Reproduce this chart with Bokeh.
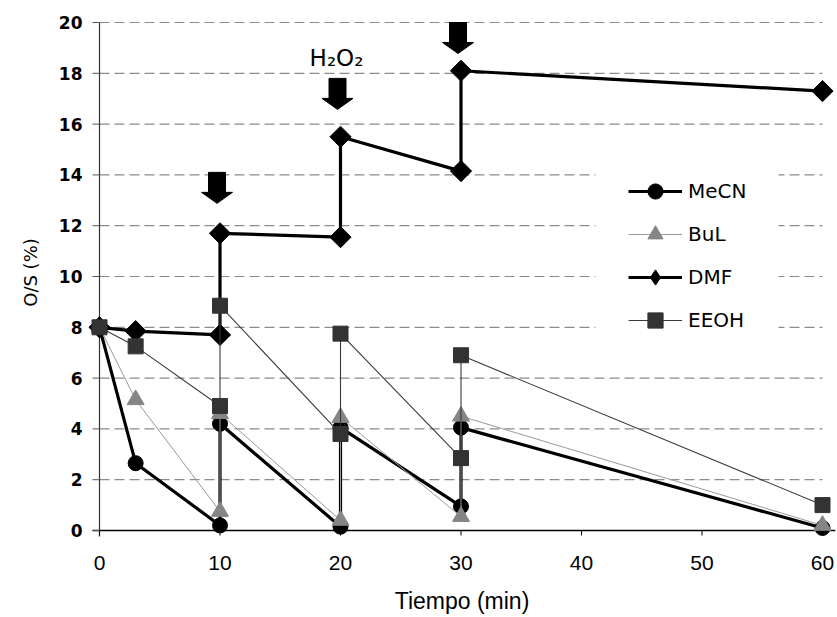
from bokeh.plotting import figure
from bokeh.models import (Range1d, LinearAxis, FixedTicker, Legend, LegendItem,
                          Label)
from bokeh.embed import file_html
from bokeh.resources import INLINE
import math

# Sampling times (min); each H2O2 addition repeats the time with the new value
time = [0, 3, 10, 10, 20, 20, 30, 30, 60]

mecn = [8.0, 2.65, 0.2, 4.2, 0.15, 4.05, 0.95, 4.05, 0.1]
bul = [8.0, 5.15, 0.75, 4.6, 0.4, 4.45, 0.55, 4.5, 0.2]
dmf = [8.0, 7.85, 7.7, 11.7, 11.55, 15.5, 14.15, 18.1, 17.3]
eeoh = [8.0, 7.25, 4.9, 8.85, 3.8, 7.75, 2.85, 6.9, 1.0]

x_ticks = [0, 10, 20, 30, 40, 50, 60]
y_ticks = [0, 2, 4, 6, 8, 10, 12, 14, 16, 18, 20]

# H2O2 additions
add_times = [10, 20, 30]
add_label = "H₂O₂"

# ---- layout: pixel scale of the data area ----
W, H = 837, 617
PX_X = 723 / 60.0     # px per minute
PX_Y = 508 / 20.0     # px per O/S unit
frame_left, frame_right = 88, 835
frame_top, frame_bottom = 2, 542
x0_px, y0_px = 99, 530
x_start = (frame_left - x0_px) / PX_X
x_end = (frame_right - x0_px) / PX_X
y_start = -(frame_bottom - y0_px) / PX_Y
y_end = (y0_px - frame_top) / PX_Y


def px_x(px):
    return (px - x0_px) / PX_X


def px_y(px):
    return (y0_px - px) / PX_Y


p = figure(width=W, height=H, output_backend="svg", toolbar_location=None,
           x_range=Range1d(x_start, x_end), y_range=Range1d(y_start, y_end),
           x_axis_type=None, y_axis_type=None,
           min_border_left=frame_left, min_border_right=W - frame_right,
           min_border_top=frame_top, min_border_bottom=H - frame_bottom,
           outline_line_color=None, background_fill_color="white",
           border_fill_color="white")

# dashed horizontal gridlines
gy = y_ticks[1:]
p.segment(x0=[x_ticks[0]] * len(gy), x1=[x_ticks[-1]] * len(gy), y0=gy, y1=gy,
          line_color="#8c8c8c", line_width=1.2, line_dash="10 5")

# white panel behind the legend
p.quad(left=[px_x(595)], right=[px_x(778)], bottom=[px_y(352)], top=[px_y(160)],
       fill_color="white", line_color=None)

# axis lines and tick marks through the origin
p.segment(x0=[px_x(92)], x1=[x_end], y0=[0], y1=[0],
          line_color="black", line_width=1.3)
p.segment(x0=[0], x1=[0], y0=[px_y(536)], y1=[y_ticks[-1]],
          line_color="#333333", line_width=1.2)
p.segment(x0=[px_x(92)] * len(y_ticks), x1=[0] * len(y_ticks),
          y0=y_ticks, y1=y_ticks, line_color="#555555", line_width=1)
p.segment(x0=x_ticks, x1=x_ticks, y0=[px_y(535)] * len(x_ticks),
          y1=[0] * len(x_ticks), line_color="black", line_width=1)

# tick labels and titles (lines drawn above)
xaxis = LinearAxis(ticker=FixedTicker(ticks=x_ticks))
xaxis.axis_label = "Tiempo (min)"
xaxis.axis_label_text_font = "Liberation Sans"
xaxis.axis_label_text_font_size = "23px"
xaxis.axis_label_text_font_style = "normal"
xaxis.axis_label_text_color = "black"
xaxis.axis_label_standoff = 15
xaxis.major_label_text_font = "Liberation Sans"
xaxis.major_label_text_font_size = "21px"
xaxis.major_label_text_color = "black"
xaxis.major_label_standoff = 13
xaxis.major_tick_out = 0
xaxis.major_tick_in = 0
xaxis.minor_tick_out = 0
xaxis.minor_tick_in = 0
xaxis.axis_line_color = None
xaxis.major_tick_line_color = None
p.add_layout(xaxis, "below")

yaxis = LinearAxis(ticker=FixedTicker(ticks=y_ticks))
yaxis.axis_label = "O/S (%)"
yaxis.axis_label_text_font = "DejaVu Sans"
yaxis.axis_label_text_font_size = "18px"
yaxis.axis_label_text_font_style = "normal"
yaxis.axis_label_text_color = "black"
yaxis.axis_label_standoff = 15
yaxis.major_label_text_font = "DejaVu Sans"
yaxis.major_label_text_font_style = "bold"
yaxis.major_label_text_font_size = "17px"
yaxis.major_label_text_color = "black"
yaxis.major_label_standoff = 6
yaxis.major_tick_out = 0
yaxis.major_tick_in = 0
yaxis.minor_tick_out = 0
yaxis.minor_tick_in = 0
yaxis.axis_line_color = None
yaxis.major_tick_line_color = None
p.add_layout(yaxis, "left")

# series: (name, values, line color, line width, marker, marker color, size, angle)
series = [
    ("MeCN", mecn, "black", 3.2, "circle", "black", 15, 0),
    ("BuL", bul, "#9a9a9a", 1.0, "triangle", "#858585", 17, 0),
    ("DMF", dmf, "black", 3.2, "square", "black", 15, math.pi / 4),
    ("EEOH", eeoh, "#3a3a3a", 1.1, "square", "#333333", 15, 0),
]

items = []
for name, vals, lc, lw, mk, mc, sz, ang in series:
    ln = p.line(time, vals, line_color=lc, line_width=lw)
    sc = p.scatter(time, vals, marker=mk, size=sz, angle=ang,
                   fill_color=mc, line_color=mc)
    rend = [ln, sc]
    if ang:
        # legend swatch keeps the diamond shape upright
        key = p.scatter(time[:1], vals[:1], marker="diamond", size=sz,
                        fill_color=mc, line_color=mc, visible=False)
        rend = [ln, key]
    items.append(LegendItem(label=name, renderers=rend))

# addition arrows above each H2O2 dose
arrow_top = [14.1, 17.8, 20.0]
shape = [(-8.5, 0), (8.5, 0), (8.5, -20), (15.5, -20), (0, -31),
         (-15.5, -20), (-8.5, -20)]
axs, ays = [], []
for t, top in zip(add_times, arrow_top):
    axs.append([t + (dx - 3) / PX_X for dx, dy in shape])
    ays.append([top + dy / PX_Y for dx, dy in shape])
p.patches(axs, ays, fill_color="black", line_color="black")

p.add_layout(Label(x=add_times[1] - 4 / PX_X, y=20 - 35 / PX_Y, text=add_label,
                   text_font="DejaVu Sans", text_font_size="23px",
                   text_align="center", text_baseline="alphabetic",
                   text_color="black"))

legend = Legend(items=items, location=(540, 203), glyph_width=54,
                glyph_height=38, label_height=38, spacing=5, padding=0,
                label_standoff=6, margin=0, border_line_color=None,
                background_fill_color="white", background_fill_alpha=1.0,
                label_text_font="DejaVu Sans", label_text_font_size="20px",
                label_text_color="black", label_text_baseline="middle")
p.add_layout(legend)

open("out.html", "w").write(file_html(p, INLINE))
